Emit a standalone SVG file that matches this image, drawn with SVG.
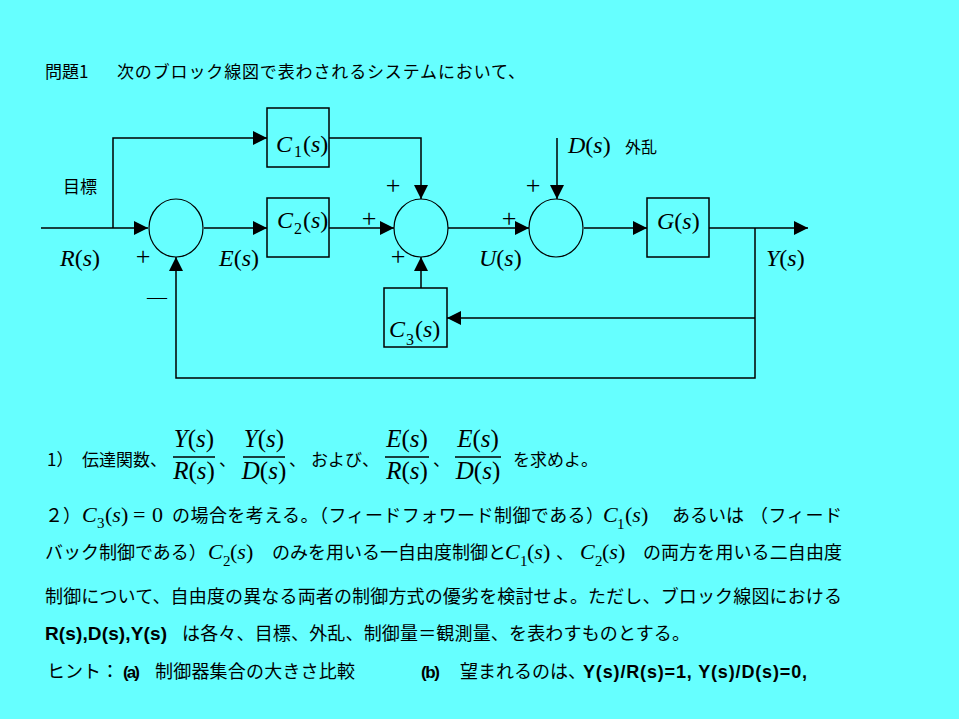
<svg xmlns="http://www.w3.org/2000/svg" width="959" height="719" viewBox="0 0 959 719">
<style>
.jp{font-family:"Noto Sans CJK JP","Liberation Sans",sans-serif;fill:#000}
.t17{font-size:17px}
.t18{font-size:18px}
.m{font-family:"Liberation Serif",serif;font-size:24px;fill:#000}
.m22{font-size:22px}
.m25{font-size:25px}
.i{font-style:italic}
.sub{font-size:16px}
.sub15{font-size:15px}
.ln{stroke:#000;stroke-width:1.5;fill:none}
.box{stroke:#000;stroke-width:1.5;fill:none}
.sum{stroke:#000;stroke-width:1.2;fill:none}
.b{font-family:"Liberation Sans",sans-serif;font-weight:bold;fill:#000}
.pm{font-family:"Liberation Serif",serif;font-size:26px;fill:#000;text-anchor:middle}
.bar{stroke:#000;stroke-width:1.5}
</style>
<defs>
<marker id="ah" markerWidth="14" markerHeight="14" refX="14" refY="7" orient="auto" markerUnits="userSpaceOnUse">
<path d="M0,0 L14,7 L0,14 Z" fill="#000"/>
</marker>
</defs>
<rect x="0" y="0" width="959" height="719" fill="#66FFFF"/>

<!-- title -->
<text class="jp t17" x="45" y="78">問題1</text>
<text class="jp t17" x="117" y="78" textLength="408">次のブロック線図で表わされるシステムにおいて、</text>

<!-- connectors -->
<g id="connectors">
<path class="ln" d="M41,228 H148" marker-end="url(#ah)"/>
<path class="ln" d="M113,228 V138 H267" marker-end="url(#ah)"/>
<path class="ln" d="M204,228 H267" marker-end="url(#ah)"/>
<path class="ln" d="M329,138 H421 V199" marker-end="url(#ah)"/>
<path class="ln" d="M329,228 H394" marker-end="url(#ah)"/>
<path class="ln" d="M421,288 V257" marker-end="url(#ah)"/>
<path class="ln" d="M448,228 H529" marker-end="url(#ah)"/>
<path class="ln" d="M557,138 V199" marker-end="url(#ah)"/>
<path class="ln" d="M584,228 H647" marker-end="url(#ah)"/>
<path class="ln" d="M709,228 H808" marker-end="url(#ah)"/>
<path class="ln" d="M755,228 V378 H176 V257" marker-end="url(#ah)"/>
<path class="ln" d="M755,318 H447" marker-end="url(#ah)"/>
</g>

<!-- nodes -->
<g id="sum1">
<ellipse class="sum" cx="176" cy="228" rx="27" ry="29"/>
<text class="pm" x="143" y="265">+</text>
<text class="m" x="147" y="304" style="font-size:20px">—</text>
</g>
<g id="C1">
<rect class="box" x="267" y="108" width="62" height="59"/>
<text class="m"><tspan class="i" x="276" y="152">C</tspan><tspan class="sub" x="294" y="157">1</tspan><tspan x="303" y="152">(</tspan><tspan class="i">s</tspan><tspan>)</tspan></text>
</g>
<g id="C2">
<rect class="box" x="267" y="198" width="62" height="59"/>
<text class="m"><tspan class="i" x="277" y="228">C</tspan><tspan class="sub" x="294" y="234">2</tspan><tspan x="303" y="228">(</tspan><tspan class="i">s</tspan><tspan>)</tspan></text>
</g>
<g id="sum2">
<ellipse class="sum" cx="421" cy="228" rx="27" ry="29"/>
<text class="pm" x="393" y="194">+</text>
<text class="pm" x="369" y="227">+</text>
<text class="pm" x="398" y="265">+</text>
</g>
<g id="C3">
<rect class="box" x="384" y="288" width="63" height="59"/>
<text class="m"><tspan class="i" x="389" y="337">C</tspan><tspan class="sub" x="406" y="345">3</tspan><tspan x="415" y="337">(</tspan><tspan class="i">s</tspan><tspan>)</tspan></text>
</g>
<g id="sum3">
<ellipse class="sum" cx="556" cy="228" rx="27" ry="29"/>
<text class="pm" x="533" y="194">+</text>
<text class="pm" x="509" y="227">+</text>
</g>
<g id="G">
<rect class="box" x="647" y="198" width="62" height="59"/>
<text class="m" x="657" y="229"><tspan class="i">G</tspan>(<tspan class="i">s</tspan>)</text>
</g>

<!-- signal labels -->
<g id="labels">
<text class="jp t17" x="63" y="193">目標</text>
<text class="m" x="60" y="266"><tspan class="i">R</tspan>(<tspan class="i">s</tspan>)</text>
<text class="m" x="219" y="266"><tspan class="i">E</tspan>(<tspan class="i">s</tspan>)</text>
<text class="m" x="479" y="266"><tspan class="i">U</tspan>(<tspan class="i">s</tspan>)</text>
<text class="m" x="766" y="266"><tspan class="i">Y</tspan>(<tspan class="i">s</tspan>)</text>
<text class="m" x="568" y="153"><tspan class="i">D</tspan>(<tspan class="i">s</tspan>)</text>
<text class="jp" x="625" y="153" style="font-size:16px">外乱</text>
</g>

<!-- question 1 -->
<g id="q1">
<text class="jp t17" x="47" y="466">1）</text>
<text class="jp t17" x="82" y="466" textLength="85">伝達関数、</text>
<text class="m m25" x="194" y="447" text-anchor="middle"><tspan class="i">Y</tspan>(<tspan class="i">s</tspan>)</text>
<line class="bar" x1="173" y1="457" x2="215" y2="457"/>
<text class="m m25" x="194" y="479" text-anchor="middle"><tspan class="i">R</tspan>(<tspan class="i">s</tspan>)</text>
<text class="jp t17" x="219" y="466">、</text>
<text class="m m25" x="264" y="447" text-anchor="middle"><tspan class="i">Y</tspan>(<tspan class="i">s</tspan>)</text>
<line class="bar" x1="243" y1="457" x2="285" y2="457"/>
<text class="m m25" x="264" y="479" text-anchor="middle"><tspan class="i">D</tspan>(<tspan class="i">s</tspan>)</text>
<text class="jp t17" x="289" y="466">、</text>
<text class="jp t17" x="311" y="466" textLength="68">および、</text>
<text class="m m25" x="407" y="447" text-anchor="middle"><tspan class="i">E</tspan>(<tspan class="i">s</tspan>)</text>
<line class="bar" x1="385" y1="457" x2="429" y2="457"/>
<text class="m m25" x="407" y="479" text-anchor="middle"><tspan class="i">R</tspan>(<tspan class="i">s</tspan>)</text>
<text class="jp t17" x="433" y="466">、</text>
<text class="m m25" x="478" y="447" text-anchor="middle"><tspan class="i">E</tspan>(<tspan class="i">s</tspan>)</text>
<line class="bar" x1="455" y1="457" x2="501" y2="457"/>
<text class="m m25" x="478" y="479" text-anchor="middle"><tspan class="i">D</tspan>(<tspan class="i">s</tspan>)</text>
<text class="jp t17" x="513" y="466" textLength="85">を求めよ。</text>
</g>

<!-- question 2 -->
<g id="q2">
<text class="jp t18" x="45" y="522">２）</text>
<text class="m m22"><tspan class="i" x="82" y="522">C</tspan><tspan class="sub15" x="97" y="528">3</tspan><tspan x="105" y="522">(</tspan><tspan class="i">s</tspan><tspan>)</tspan><tspan x="133">=</tspan><tspan x="152">0</tspan></text>
<text class="jp t18" x="172" y="522" textLength="432">の場合を考える。（フィードフォワード制御である）</text>
<text class="m m22"><tspan class="i" x="603" y="522">C</tspan><tspan class="sub15" x="617" y="529">1</tspan><tspan x="625" y="522">(</tspan><tspan class="i">s</tspan><tspan>)</tspan></text>
<text class="jp t18" x="672" y="522" textLength="72">あるいは</text>
<text class="jp t18" x="750" y="522" textLength="92">（フィード</text>

<text class="jp t18" x="45" y="559">バック制御である）</text>
<text class="m m22"><tspan class="i" x="208" y="559">C</tspan><tspan class="sub15" x="223" y="566">2</tspan><tspan x="230" y="559">(</tspan><tspan class="i">s</tspan><tspan>)</tspan></text>
<text class="jp t18" x="272" y="559" textLength="234">のみを用いる一自由度制御と</text>
<text class="m m22"><tspan class="i" x="505" y="559">C</tspan><tspan class="sub15" x="520" y="566">1</tspan><tspan x="527" y="559">(</tspan><tspan class="i">s</tspan><tspan>)</tspan></text>
<text class="jp t18" x="556" y="559">、</text>
<text class="m m22"><tspan class="i" x="580" y="559">C</tspan><tspan class="sub15" x="595" y="566">2</tspan><tspan x="602" y="559">(</tspan><tspan class="i">s</tspan><tspan>)</tspan></text>
<text class="jp t18" x="643" y="559" textLength="199">の両方を用いる二自由度</text>

<text class="jp t18" x="45" y="603" textLength="797">制御について、自由度の異なる両者の制御方式の優劣を検討せよ。ただし、ブロック線図における</text>

<text class="b" x="45" y="640" style="font-size:19px" textLength="122">R(s),D(s),Y(s)</text>
<text class="jp t18" x="182" y="640" textLength="508">は各々、目標、外乱、制御量＝観測量、を表わすものとする。</text>

<text class="jp t18" x="47" y="678" textLength="72">ヒント：</text>
<text class="b" x="123" y="678" style="font-size:17px" textLength="17">(a)</text>
<text class="jp t18" x="155" y="678" textLength="200">制御器集合の大きさ比較</text>
<text class="b" x="421" y="678" style="font-size:17px" textLength="19">(b)</text>
<text class="jp t18" x="460" y="678" textLength="126">望まれるのは、</text>
<text class="b" x="583" y="678" style="font-size:18px" textLength="224">Y(s)/R(s)=1, Y(s)/D(s)=0,</text>
</g>
</svg>
